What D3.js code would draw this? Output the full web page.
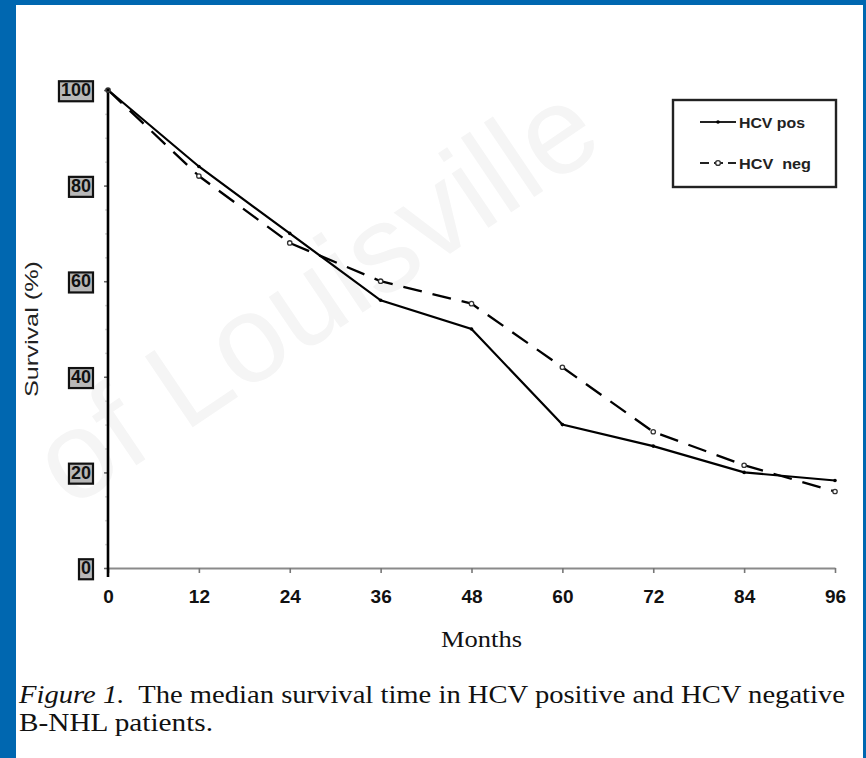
<!DOCTYPE html>
<html>
<head>
<meta charset="utf-8">
<script src="https://cdn.jsdelivr.net/npm/d3@7.9.0/dist/d3.min.js"></script>
<style>
  html, body { margin: 0; padding: 0; background: #0067b0; }
  svg { display: block; }
  .serif { font-family: "Liberation Serif", "Times New Roman", Times, serif; }
  .sans { font-family: "Liberation Sans", Arial, Helvetica, sans-serif; }
</style>
</head>
<body>
<div id="chart"></div>
<script>
// data
const months = [0, 12, 24, 36, 48, 60, 72, 84, 96];
const hcvPos = [100, 84, 70, 56, 50, 30, 25.5, 20, 18.3];
const hcvNeg = [100, 82, 68, 60, 55.3, 42, 28.5, 21.5, 16];
const xTicks = [0, 12, 24, 36, 48, 60, 72, 84, 96];
const yTicks = [0, 20, 40, 60, 80, 100];
const seriesNames = ['HCV pos', 'HCV  neg'];

const width = 866;
const height = 758;

const svg = d3.select('#chart')
  .append('svg')
  .attr('width', width)
  .attr('height', height);

// white page inside the blue frame
svg.append('rect')
  .attr('x', 16).attr('y', 5)
  .attr('width', 847).attr('height', height - 5)
  .attr('fill', '#fff');

// faint watermark
svg.append('text')
  .attr('class', 'sans')
  .attr('transform', 'translate(70,510) rotate(-34)')
  .attr('font-size', 124)
  .attr('fill', '#f5f5f5')
  .text('of Louisville');

const xScale = d3.scaleLinear().domain([0, 96]).range([108, 835]);
const yScale = d3.scaleLinear().domain([0, 100]).range([568, 90]);

// x axis (grey in the scan)
const xAxis = svg.append('g')
  .attr('transform', `translate(0, ${yScale(0)})`)
  .call(d3.axisBottom(xScale).tickValues(xTicks).tickSize(5).tickSizeOuter(0).tickPadding(17));
xAxis.attr('font-family', null);
xAxis.select('.domain').attr('stroke', '#8a8a8a').attr('stroke-width', 2.2);
xAxis.selectAll('.tick line').attr('stroke', '#777').attr('stroke-width', 1.6);
xAxis.selectAll('.tick text')
  .attr('class', 'sans')
  .attr('font-weight', 'bold')
  .attr('font-size', 19)
  .attr('fill', '#111');

// minor ticks on y axis
svg.append('g')
  .attr('transform', `translate(${xScale(0)}, 0)`)
  .call(d3.axisLeft(yScale).tickValues(d3.range(0, 101, 5)).tickSize(3).tickFormat(''))
  .call(g => g.select('.domain').remove())
  .call(g => g.selectAll('.tick line').attr('stroke', '#d4d4d4').attr('stroke-width', 1.5));

// y axis
const yAxis = svg.append('g')
  .attr('transform', `translate(${xScale(0)}, 0)`)
  .call(d3.axisLeft(yScale).tickValues(yTicks).tickSize(4).tickPadding(13));
yAxis.attr('font-family', null);
yAxis.select('.domain').remove();
yAxis.selectAll('.tick line').attr('stroke', '#666').attr('stroke-width', 1.5);
yAxis.selectAll('.tick text')
  .attr('class', 'sans')
  .attr('font-weight', 'bold')
  .attr('font-size', 18)
  .attr('fill', '#111');
// boxed look of the scanned labels
yAxis.selectAll('.tick').each(function () {
  const t = d3.select(this).select('text');
  const b = t.node().getBBox();
  d3.select(this).insert('rect', 'text')
    .attr('x', b.x - 2).attr('y', b.y + 1)
    .attr('width', b.width + 4).attr('height', b.height)
    .attr('fill', '#b8b8b8')
    .attr('stroke', '#111')
    .attr('stroke-width', 2.2);
});
svg.append('line')
  .attr('x1', xScale(0)).attr('x2', xScale(0))
  .attr('y1', yScale(100)).attr('y2', yScale(0) + 9)
  .attr('stroke', '#000')
  .attr('stroke-width', 2.6);

// axis titles
svg.append('text')
  .attr('class', 'serif')
  .attr('x', 441).attr('y', 647)
  .attr('font-size', 23)
  .attr('textLength', 81)
  .attr('lengthAdjust', 'spacingAndGlyphs')
  .attr('fill', '#111')
  .text('Months');

svg.append('text')
  .attr('class', 'sans')
  .attr('transform', 'translate(38, 397) rotate(-90)')
  .attr('font-size', 19)
  .attr('textLength', 136)
  .attr('lengthAdjust', 'spacingAndGlyphs')
  .attr('fill', '#222')
  .text('Survival (%)');

// series lines
const line = d3.line()
  .x((d, i) => xScale(months[i]))
  .y(d => yScale(d));

svg.append('path')
  .datum(hcvNeg)
  .attr('d', line)
  .attr('fill', 'none')
  .attr('stroke', '#000')
  .attr('stroke-width', 2.3)
  .attr('stroke-dasharray', '19,11');

svg.append('path')
  .datum(hcvPos)
  .attr('d', line)
  .attr('fill', 'none')
  .attr('stroke', '#000')
  .attr('stroke-width', 2.2);

svg.append('g')
  .selectAll('circle')
  .data(hcvNeg)
  .join('circle')
  .attr('cx', (d, i) => xScale(months[i]))
  .attr('cy', d => yScale(d))
  .attr('r', 2.2)
  .attr('fill', '#fff')
  .attr('stroke', '#333')
  .attr('stroke-width', 1.3);

svg.append('g')
  .selectAll('circle')
  .data(hcvPos)
  .join('circle')
  .attr('cx', (d, i) => xScale(months[i]))
  .attr('cy', d => yScale(d))
  .attr('r', 1.8)
  .attr('fill', '#000');

// legend
const legend = svg.append('g');
legend.append('rect')
  .attr('x', 673).attr('y', 100)
  .attr('width', 163).attr('height', 87)
  .attr('fill', 'none')
  .attr('stroke', '#222')
  .attr('stroke-width', 2.4);

const rowY = [122, 163];
const textLen = [66, 72];
seriesNames.forEach((name, i) => {
  legend.append('line')
    .attr('x1', 700).attr('x2', 736)
    .attr('y1', rowY[i]).attr('y2', rowY[i])
    .attr('stroke', '#222')
    .attr('stroke-width', 1.8)
    .attr('stroke-dasharray', i === 1 ? '9,5' : null);
  legend.append('circle')
    .attr('cx', 718).attr('cy', rowY[i])
    .attr('r', i === 1 ? 2.4 : 1.8)
    .attr('fill', i === 1 ? '#fff' : '#000')
    .attr('stroke', '#333')
    .attr('stroke-width', i === 1 ? 1.4 : 0);
  legend.append('text')
    .attr('class', 'sans')
    .attr('x', 739).attr('y', rowY[i] + 6)
    .attr('font-weight', 'bold')
    .attr('font-size', 15)
    .attr('textLength', textLen[i])
    .attr('lengthAdjust', 'spacingAndGlyphs')
    .attr('fill', '#222')
    .style('white-space', 'pre')
    .text(name);
});

// caption
const cap1 = svg.append('text')
  .attr('class', 'serif')
  .attr('x', 19).attr('y', 703)
  .attr('font-size', 25)
  .attr('textLength', 826)
  .attr('lengthAdjust', 'spacingAndGlyphs')
  .attr('fill', '#111')
  .style('white-space', 'pre');
cap1.append('tspan').attr('font-style', 'italic').text('Figure 1.');
cap1.append('tspan').text('  The median survival time in HCV positive and HCV negative');

svg.append('text')
  .attr('class', 'serif')
  .attr('x', 19).attr('y', 731)
  .attr('font-size', 25)
  .attr('textLength', 194)
  .attr('lengthAdjust', 'spacingAndGlyphs')
  .attr('fill', '#111')
  .text('B-NHL patients.');
</script>
</body>
</html>
